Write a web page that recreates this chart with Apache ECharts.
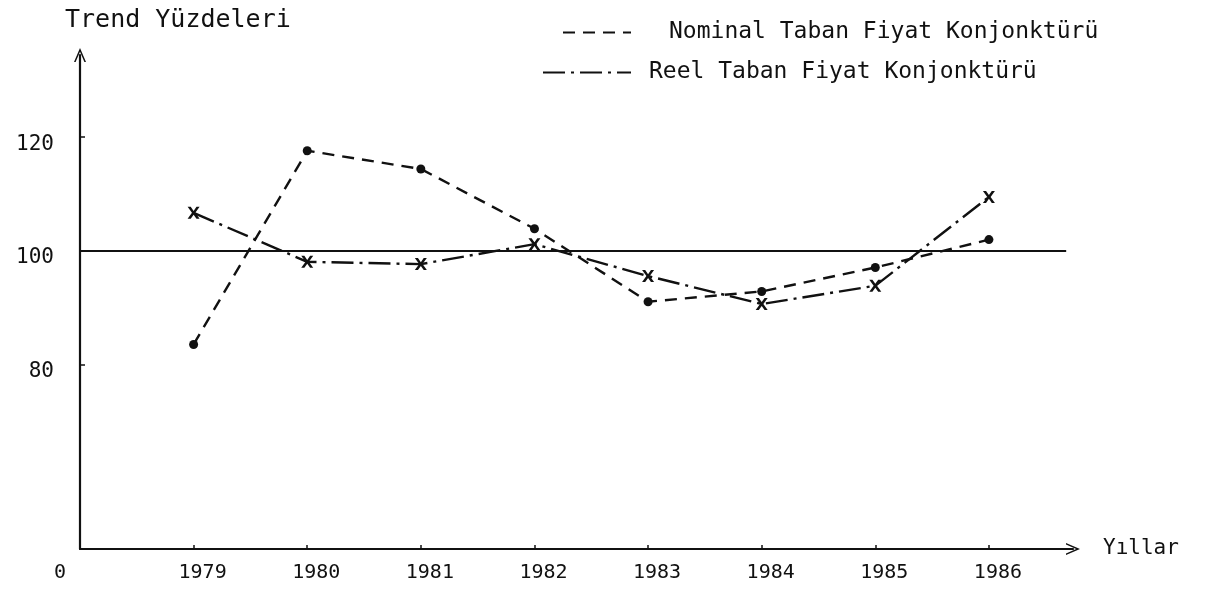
<!DOCTYPE html>
<html>
<head>
<meta charset="utf-8">
<title>Trend Yüzdeleri</title>
<script src="https://cdn.jsdelivr.net/npm/echarts@6/dist/echarts.min.js"></script>
<style>
  html, body { margin: 0; padding: 0; background: #fff; }
  #chart { width: 1210px; height: 594px; }
</style>
</head>
<body>
<div id="chart"></div>
<script>
// values
var years = [1979, 1980, 1981, 1982, 1983, 1984, 1985, 1986];
var nominal = [83.6, 117.6, 114.4, 103.9, 91.1, 92.9, 97.1, 102.0];
var reel = [106.7, 98.1, 97.7, 101.2, 95.6, 90.7, 93.9, 109.5];
var yTicks = [80, 100, 120];
var baseLine = 100;
var origin = 1978;

var ink = '#111';
var font = 'DejaVu Sans Mono';
var weight = 'normal';
var chevron = 'path://M0,14 L6,0 L12,14 L10.4,14 L6,3.8 L1.6,14 Z';
var cross = 'path://M0,0 L2.6,0 L5,3.4 L7.4,0 L10,0 L6.4,5 L10,10 L7.4,10 L5,6.6 L2.6,10 L0,10 L3.6,5 Z';

function pairs(vals) {
  var out = [];
  for (var i in years) {
    out.push([years[i], vals[i]]);
  }
  return out;
}

var chart = echarts.init(document.getElementById('chart'));
var option = {
  backgroundColor: '#fff',
  animation: false,
  title: {
    text: 'Trend Yüzdeleri',
    left: 60,
    top: 3,
    textStyle: { fontFamily: font, fontSize: 25, fontWeight: weight, color: ink }
  },
  legend: [
    {
      data: ['Nominal Taban Fiyat Konjonktürü'],
      left: 562,
      top: 21,
      padding: 0,
      itemWidth: 68,
      itemHeight: 14,
      itemStyle: { opacity: 0 },
      textStyle: { fontFamily: font, fontSize: 23, fontWeight: weight, color: ink, padding: [0, 0, 0, 33] }
    },
    {
      data: ['Reel Taban Fiyat Konjonktürü'],
      left: 542,
      top: 61,
      padding: 0,
      itemWidth: 88,
      itemHeight: 14,
      itemStyle: { opacity: 0 },
      textStyle: { fontFamily: font, fontSize: 23, fontWeight: weight, color: ink, padding: [0, 0, 0, 13] }
    }
  ],
  grid: { left: 80, right: 137, top: 55, bottom: 45, containLabel: false },
  xAxis: {
    type: 'value',
    min: origin,
    max: 1986.74,
    name: 'Yıllar',
    nameLocation: 'end',
    nameGap: 30,
    nameTextStyle: { fontFamily: font, fontSize: 21, fontWeight: weight, color: ink },
    splitLine: { show: false },
    axisLine: {
      lineStyle: { color: ink, width: 2.2 },
      symbol: ['none', chevron],
      symbolSize: [12, 14]
    },
    axisTick: { show: true, inside: true, length: 4, customValues: years, lineStyle: { color: ink, width: 1.5 } },
    axisLabel: {
      customValues: [origin].concat(years),
      margin: 14,
      formatter: function (v) {
        if (v === origin) return '{o|0}';
        return '{y|' + v + '}';
      },
      rich: {
        o: { fontFamily: font, fontSize: 20, fontWeight: weight, color: ink, padding: [0, 40, 0, 0] },
        y: { fontFamily: font, fontSize: 20, fontWeight: weight, color: ink, padding: [0, 0, 0, 18] }
      }
    }
  },
  yAxis: {
    type: 'value',
    min: 47.7,
    max: 134.4,
    splitLine: { show: false },
    axisLine: {
      lineStyle: { color: ink, width: 2.2 },
      symbol: ['none', chevron],
      symbolSize: [12, 14]
    },
    axisTick: { show: true, inside: true, length: 5, customValues: [80, 120], lineStyle: { color: ink, width: 1.5 } },
    axisLabel: {
      customValues: yTicks,
      margin: 26,
      formatter: function (v) {
        return '{n|' + v + '}';
      },
      rich: {
        n: { fontFamily: font, fontSize: 21, fontWeight: weight, color: ink, padding: [14, 0, 0, 0] }
      }
    }
  },
  series: [
    {
      name: 'Nominal Taban Fiyat Konjonktürü',
      type: 'line',
      data: pairs(nominal),
      symbol: 'circle',
      symbolSize: 9,
      itemStyle: { color: ink },
      lineStyle: { color: ink, width: 2.4, type: [12, 8] },
      z: 3,
      markLine: {
        silent: true,
        symbol: 'none',
        label: { show: false },
        lineStyle: { color: ink, width: 2.2, type: 'solid' },
        data: [[{ coord: [origin, baseLine] }, { coord: [1986.68, baseLine] }]]
      }
    },
    {
      name: 'Reel Taban Fiyat Konjonktürü',
      type: 'line',
      data: pairs(reel),
      symbol: cross,
      symbolSize: 12,
      itemStyle: { color: ink },
      lineStyle: { color: ink, width: 2.4, type: [22, 6, 3, 6] },
      z: 3
    }
  ]
};
chart.setOption(option);
</script>
</body>
</html>
